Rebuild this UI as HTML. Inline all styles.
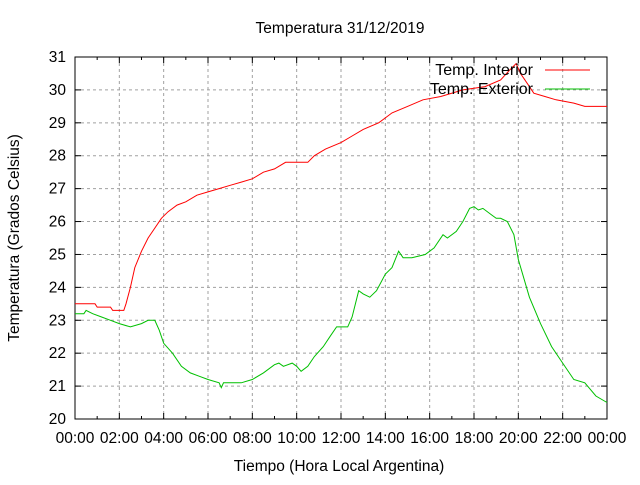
<!DOCTYPE html>
<html><head><meta charset="utf-8"><style>
body{margin:0;background:#fff}
svg text{font-family:"Liberation Sans",sans-serif;font-size:15.5px;fill:#000}
svg #legend text{font-size:16px}
</style></head><body>
<svg id="chart" width="640" height="480" xmlns="http://www.w3.org/2000/svg">
<rect width="640" height="480" fill="#fff"/>
<text x="340" y="33" text-anchor="middle">Temperatura 31/12/2019</text>
<text x="339" y="471" text-anchor="middle">Tiempo (Hora Local Argentina)</text>
<text transform="translate(19,238) rotate(-90)" text-anchor="middle">Temperatura (Grados Celsius)</text>
<g id="grid"></g>
<g id="axes"></g>
<g id="series"></g>
<g id="legend"></g>
</svg>
<script>
const xTickLabels=["00:00","02:00","04:00","06:00","08:00","10:00","12:00","14:00","16:00","18:00","20:00","22:00","00:00"];
const yTicks=[20,21,22,23,24,25,26,27,28,29,30,31];
const interiorHours=[0,0.9,1.0,1.6,1.7,2.2,2.3,2.5,2.7,3.0,3.3,3.6,3.9,4.2,4.6,5.0,5.5,6.0,6.5,7.0,7.5,8.0,8.5,9.0,9.5,10.5,10.8,11.3,12.0,12.5,13.0,13.7,14.3,15.0,15.7,16.5,17.5,18.5,19.2,19.6,19.9,20.1,20.4,20.7,21.2,21.7,22.5,23.0,24.0];
const interiorTemps=[23.5,23.5,23.4,23.4,23.3,23.3,23.5,24.0,24.6,25.1,25.5,25.8,26.1,26.3,26.5,26.6,26.8,26.9,27.0,27.1,27.2,27.3,27.5,27.6,27.8,27.8,28.0,28.2,28.4,28.6,28.8,29.0,29.3,29.5,29.7,29.8,30.0,30.1,30.3,30.6,30.8,30.5,30.2,29.9,29.8,29.7,29.6,29.5,29.5];
const exteriorHours=[0,0.4,0.5,0.8,1.2,1.6,2.0,2.5,3.0,3.3,3.6,3.8,4.0,4.4,4.8,5.2,5.6,6.0,6.5,6.6,6.7,7.5,8.0,8.5,9.0,9.2,9.4,9.8,10.0,10.2,10.5,10.8,11.2,11.5,11.8,12.3,12.5,12.8,13.0,13.3,13.6,14.0,14.3,14.6,14.8,15.2,15.8,16.2,16.6,16.8,17.2,17.5,17.8,18.0,18.2,18.4,18.8,19.0,19.2,19.5,19.8,20.0,20.5,21.0,21.5,22.0,22.5,23.0,23.5,24.0];
const exteriorTemps=[23.2,23.2,23.3,23.2,23.1,23.0,22.9,22.8,22.9,23.0,23.0,22.7,22.3,22.0,21.6,21.4,21.3,21.2,21.1,20.95,21.1,21.1,21.2,21.4,21.65,21.7,21.6,21.7,21.6,21.45,21.6,21.9,22.2,22.5,22.8,22.8,23.1,23.9,23.8,23.7,23.9,24.4,24.6,25.1,24.9,24.9,25.0,25.2,25.6,25.5,25.7,26.0,26.4,26.45,26.35,26.4,26.2,26.1,26.1,26.0,25.6,24.85,23.7,22.9,22.2,21.7,21.2,21.1,20.7,20.5];
const X0=75,X1=607,Y0=419,Y1=57;
const xs=h=>X0+(X1-X0)*h/24;
const ys=t=>Y0-(Y0-Y1)*(t-20)/11;
const NS="http://www.w3.org/2000/svg";
function mk(tag,parent,attrs){const e=document.createElementNS(NS,tag);for(const k in attrs)e.setAttribute(k,attrs[k]);parent.appendChild(e);return e;}
const grid=document.getElementById('grid'),axes=document.getElementById('axes'),series=document.getElementById('series'),legend=document.getElementById('legend');
yTicks.forEach((t,i)=>{
  const y=ys(t);
  if(i>0&&i<yTicks.length-1){const g=mk('line',grid,{x1:X0,x2:X1,y1:y,y2:y,stroke:'#a0a0a0','stroke-dasharray':'3,3'});
  
  }
  mk('line',axes,{x1:X0,x2:X0+6,y1:y,y2:y,stroke:'#000'});
  mk('line',axes,{x1:X1,x2:X1-6,y1:y,y2:y,stroke:'#000'});
  const tx=mk('text',axes,{x:X0-9,y:y+5,'text-anchor':'end'});tx.textContent=t;
  
  
});
xTickLabels.forEach((l,i)=>{
  const x=xs(i*2);
  if(i>0&&i<xTickLabels.length-1){const g=mk('line',grid,{x1:x,x2:x,y1:Y1,y2:Y0,stroke:'#a0a0a0','stroke-dasharray':'3,3'});
  
  }
  mk('line',axes,{x1:x,x2:x,y1:Y0,y2:Y0-6,stroke:'#000'});
  mk('line',axes,{x1:x,x2:x,y1:Y1,y2:Y1+6,stroke:'#000'});
  const tx=mk('text',axes,{x:x,y:Y0+24,'text-anchor':'middle'});tx.textContent=l;
  
  
});
for(let h=1;h<24;h+=2){const x=xs(h);mk('line',axes,{x1:x,x2:x,y1:Y0,y2:Y0-3,stroke:'#000'});mk('line',axes,{x1:x,x2:x,y1:Y1,y2:Y1+3,stroke:'#000'});}
mk('rect',axes,{x:X0,y:Y1,width:X1-X0,height:Y0-Y1,fill:'none',stroke:'#000'});
function pts(H,T){return H.map((h,i)=>xs(h).toFixed(1)+','+ys(T[i]).toFixed(1)).join(' ');}
const li=mk('polyline',series,{points:pts(interiorHours,interiorTemps),fill:'none',stroke:'#ff0000','stroke-width':1});


const le=mk('polyline',series,{points:pts(exteriorHours,exteriorTemps),fill:'none',stroke:'#00c000','stroke-width':1});


[["Temp. Interior","#ff0000",75],["Temp. Exterior","#00c000",94]].forEach(([n,c,y])=>{
  const t=mk('text',legend,{x:533,y:y,'text-anchor':'end'});t.textContent=n;
  
  
  const l=mk('line',legend,{x1:545,x2:590,y1:y-5,y2:y-5,stroke:c});
  
  
});
</script>
</body></html>
